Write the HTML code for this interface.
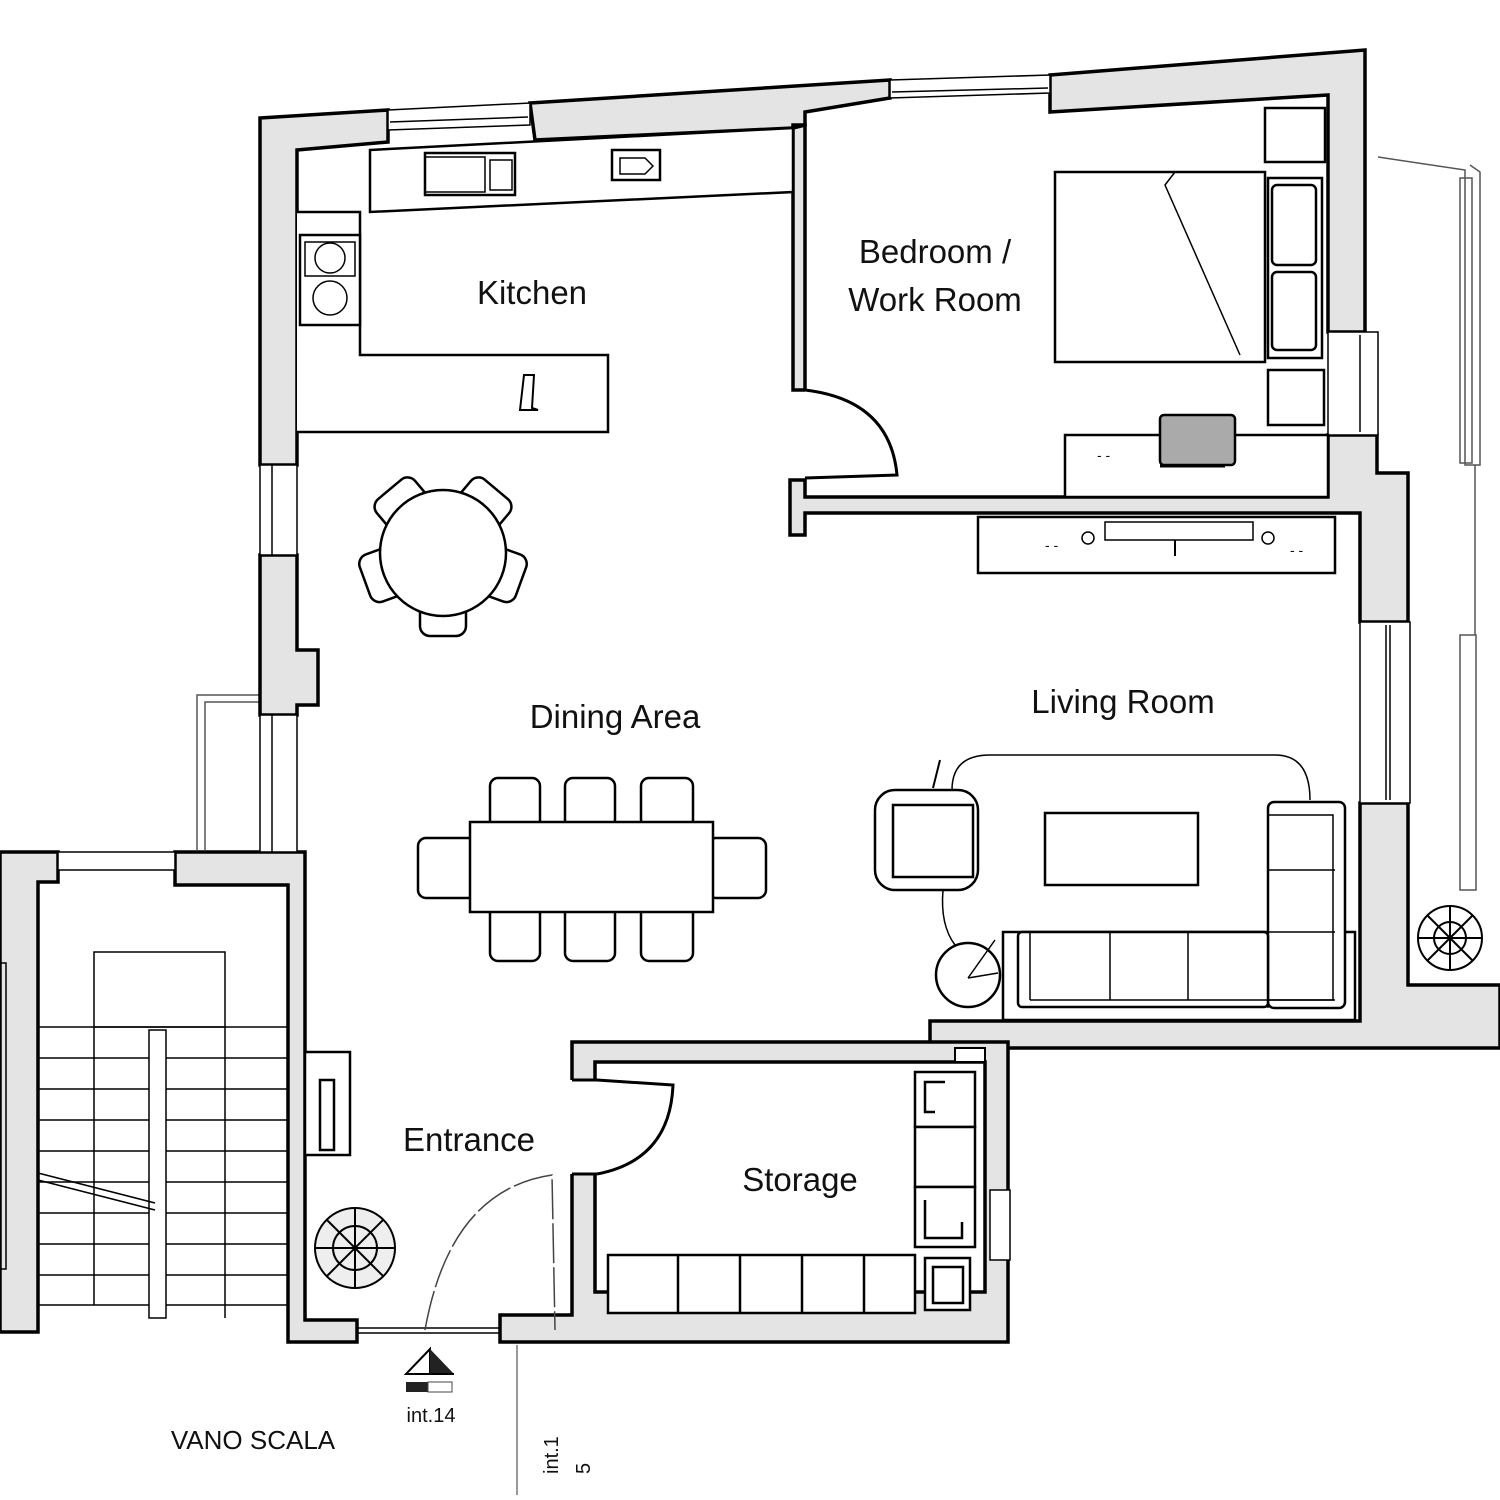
<!DOCTYPE html>
<html><head><meta charset="utf-8"><style>
html,body{margin:0;padding:0;background:#fff;}
svg{display:block;}
text{font-family:"Liberation Sans",sans-serif;fill:#111;}
.w{fill:#e4e4e4;stroke:#000;stroke-width:3.5;stroke-linejoin:miter;}
.f{fill:#fff;stroke:#000;stroke-width:2.5;}
.t{fill:none;stroke:#000;stroke-width:1.5;}
.g{fill:none;stroke:#555;stroke-width:1.5;}
.lbl{font-size:33px;font-weight:500;}
</style></head><body>
<svg width="1500" height="1500" viewBox="0 0 1500 1500" xmlns="http://www.w3.org/2000/svg">
<g class="g">
<polyline points="260,695 197,695 197,850"/><polyline points="260,702 205,702 205,850"/>
<polyline points="1378,157 1465,170 1465,465 1480,465 1480,172 1470,165"/>
<rect x="1460" y="178" width="12" height="285"/>
<line x1="1475" y1="465" x2="1475" y2="635"/>
<rect x="1460" y="635" width="16" height="255"/>
</g>
<polygon class="w" points="260,118 388,110 388,142 297,150 297,465 260,465"/>
<polygon class="w" points="530,103 890,80 890,98 805,112 805,125 793,125 793,128 535,140"/>
<polygon class="w" points="1050,75 1365,50 1365,332 1328,332 1328,95 1050,112"/>
<polygon class="w" points="790,480 805,480 805,497 1328,497 1328,435 1377,435 1377,473 1408,473 1408,622 1360,622 1360,513 805,513 805,535 790,535"/>
<polygon class="w" points="793,128 805,125 805,390 793,390"/>
<polygon class="w" points="1360,803 1408,803 1408,985 1500,985 1500,1048 930,1048 930,1021 1360,1021"/>
<polygon class="w" points="260,555 297,555 297,650 318,650 318,705 297,705 297,715 260,715"/>
<polygon class="w" points="175,852 305,852 305,1320 357,1320 357,1342 288,1342 288,885 175,885"/>
<polygon class="w" points="0,852 58,852 58,882 38,882 38,1332 0,1332"/>
<path class="w" fill-rule="evenodd" d="M500,1315 L572,1315 L572,1042 L1008,1042 L1008,1342 L500,1342 Z M595,1062 L595,1292 L985,1292 L985,1062 Z"/>
<rect x="569" y="1080" width="29" height="94" fill="#fff"/>
<line x1="572" y1="1080" x2="597" y2="1080" stroke="#000" stroke-width="3"/>
<line x1="572" y1="1174" x2="597" y2="1174" stroke="#000" stroke-width="3"/>
<rect x="955" y="1048" width="30" height="14" fill="#fff" stroke="#000" stroke-width="2"/>
<g class="t" fill="#fff">
<polygon points="388,110 530,103 530,125 388,130" fill="#fff"/>
<line x1="390" y1="122" x2="528" y2="117"/>
<polygon points="890,80 1050,75 1050,93 890,98" fill="#fff"/>
<line x1="892" y1="92" x2="1048" y2="88"/>
<rect x="1328" y="332" width="50" height="103" fill="#fff"/><line x1="1360" y1="335" x2="1360" y2="432"/>
<rect x="1360" y="622" width="50" height="181" fill="#fff"/><line x1="1386" y1="625" x2="1386" y2="800"/><line x1="1390" y1="625" x2="1390" y2="800"/>
<rect x="260" y="465" width="37" height="90" fill="#fff"/><line x1="272" y1="465" x2="272" y2="555"/>
<rect x="260" y="715" width="37" height="137" fill="#fff"/><line x1="272" y1="715" x2="272" y2="852"/>
<rect x="58" y="852" width="117" height="18" fill="#fff"/>
<rect x="990" y="1190" width="20" height="70" fill="#fff"/>
<line x1="357" y1="1328" x2="500" y2="1328"/><line x1="357" y1="1333" x2="500" y2="1333"/>
</g>
<path d="M805,390 Q890,400 897,475 L805,478" fill="#fff" stroke="#000" stroke-width="3"/>
<path d="M597,1080 L673,1085 Q670,1160 597,1174" fill="#fff" stroke="#000" stroke-width="3"/>
<path d="M425,1330 Q450,1190 552,1175 L555,1330" fill="none" stroke="#444" stroke-width="1.5" stroke-dasharray="40 4"/>
<polygon class="f" points="370,150 793,128 793,192 370,212"/>
<rect class="f" x="425" y="153" width="90" height="42"/><rect class="t" x="425" y="157" width="60" height="35"/><rect class="t" x="490" y="160" width="22" height="30"/>
<rect class="f" x="612" y="150" width="48" height="30"/><path class="t" d="M620,158 h25 l8,8 l-8,8 h-25z"/>
<polyline class="f" points="297,212 360,212 360,355 608,355 608,432 297,432" />
<rect class="f" x="300" y="235" width="60" height="90"/>
<circle class="t" cx="330" cy="258" r="15"/><circle class="t" cx="330" cy="298" r="17"/><rect class="t" x="305" y="242" width="50" height="34"/>
<path d="M524,375 L534,375 L532,408 L538,410 L520,410 Z" fill="#fff" stroke="#000" stroke-width="2"/>
<rect class="f" x="1265" y="108" width="60" height="54"/>
<rect class="f" x="1055" y="172" width="210" height="190"/>
<polyline class="t" points="1175,172 1165,185 1240,355" stroke-width="2.5"/>
<rect class="f" x="1268" y="178" width="54" height="180"/>
<rect class="f" x="1272" y="185" width="44" height="80" rx="5"/><rect class="f" x="1272" y="272" width="44" height="78" rx="5"/>
<rect class="f" x="1268" y="370" width="56" height="55"/>
<rect class="f" x="1065" y="435" width="263" height="62"/>
<text x="1097" y="460" font-size="14">- -</text>
<rect x="1160" y="415" width="75" height="50" rx="4" fill="#aaa" stroke="#000" stroke-width="2.5"/>
<line x1="1160" y1="466" x2="1225" y2="466" stroke="#000" stroke-width="3"/>
<rect class="f" x="978" y="517" width="357" height="56"/>
<rect class="t" x="1105" y="522" width="148" height="18"/>
<line x1="1175" y1="540" x2="1175" y2="556" stroke="#000" stroke-width="2"/>
<circle class="t" cx="1088" cy="538" r="6"/><circle class="t" cx="1268" cy="538" r="6"/>
<text x="1045" y="550" font-size="14">- -</text><text x="1290" y="555" font-size="14">- -</text>
<g stroke="#000" stroke-width="2.5" fill="#fff">
<g transform="rotate(-40 443 553)"><rect x="418" y="470" width="50" height="38" rx="10"/></g>
<g transform="rotate(40 443 553)"><rect x="418" y="470" width="50" height="38" rx="10"/></g>
<g transform="rotate(-110 443 553)"><rect x="418" y="470" width="50" height="38" rx="10"/></g>
<g transform="rotate(110 443 553)"><rect x="418" y="470" width="50" height="38" rx="10"/></g>
<g transform="rotate(180 443 553)"><rect x="420" y="470" width="46" height="36" rx="10"/></g>
<circle cx="443" cy="553" r="63"/>
</g>
<g stroke="#000" stroke-width="2.5" fill="#fff">
<rect x="490" y="778" width="50" height="50" rx="8"/><rect x="565" y="778" width="50" height="50" rx="8"/><rect x="641" y="778" width="52" height="50" rx="8"/>
<rect x="490" y="905" width="50" height="56" rx="8"/><rect x="565" y="905" width="50" height="56" rx="8"/><rect x="641" y="905" width="52" height="56" rx="8"/>
<rect x="418" y="838" width="58" height="60" rx="8"/><rect x="708" y="838" width="58" height="60" rx="8"/>
<rect x="470" y="822" width="243" height="90"/>
</g>
<path class="t" d="M952,790 Q952,755 990,755 L1275,755 Q1310,755 1310,800" stroke-width="2"/>
<line x1="940" y1="760" x2="933" y2="788" stroke="#000" stroke-width="2"/>
<rect class="f" x="875" y="790" width="103" height="100" rx="20"/><rect class="f" x="893" y="805" width="80" height="72"/>
<path class="t" d="M943,890 Q940,925 955,945" stroke-width="2"/>
<rect class="f" x="1045" y="813" width="153" height="72"/>
<rect class="f" x="1003" y="932" width="352" height="88"/>
<rect class="f" x="1268" y="802" width="77" height="206" rx="6"/>
<rect class="f" x="1018" y="932" width="250" height="75" rx="4"/>
<g class="t" stroke-width="2.5"><line x1="1030" y1="932" x2="1030" y2="1000"/><line x1="1030" y1="1000" x2="1335" y2="1000"/><line x1="1110" y1="932" x2="1110" y2="1000"/><line x1="1188" y1="932" x2="1188" y2="1000"/><line x1="1268" y1="932" x2="1268" y2="1008"/>
<rect x="1268" y="815" width="65" height="185"/><line x1="1268" y1="870" x2="1335" y2="870"/><line x1="1268" y1="932" x2="1335" y2="932"/></g>
<circle class="f" cx="968" cy="975" r="32"/>
<path class="t" d="M968,978 L998,973 M968,978 L995,940" stroke-width="2"/>
<g stroke="#000" stroke-width="2" fill="none">
<circle cx="1450" cy="938" r="32"/><circle cx="1450" cy="938" r="16"/>
<path d="M1418,938 H1482 M1450,906 V970 M1428,916 L1472,960 M1472,916 L1428,960"/>
<circle cx="355" cy="1248" r="40" fill="#eee"/><circle cx="355" cy="1248" r="22"/>
<path d="M315,1248 H395 M355,1208 V1288 M327,1220 L383,1276 M383,1220 L327,1276"/>
</g>
<rect class="f" x="305" y="1052" width="45" height="103"/><rect class="f" x="320" y="1080" width="14" height="70"/>
<g stroke="#000" stroke-width="2.5" fill="#fff">
<rect x="915" y="1072" width="60" height="55"/><rect x="915" y="1127" width="60" height="60"/><rect x="915" y="1187" width="60" height="60"/><rect x="925" y="1258" width="45" height="52"/>
<rect x="608" y="1255" width="307" height="58"/>
<line x1="678" y1="1255" x2="678" y2="1313"/><line x1="740" y1="1255" x2="740" y2="1313"/><line x1="802" y1="1255" x2="802" y2="1313"/><line x1="864" y1="1255" x2="864" y2="1313"/>
<rect x="933" y="1267" width="30" height="36"/>
<polyline fill="none" points="945,1082 925,1082 925,1112 935,1112"/><polyline fill="none" points="925,1200 925,1238 962,1238 962,1222"/>
</g>
<g class="t" stroke="#333">
<rect x="94" y="952" width="131" height="75"/>
<line x1="38" y1="1027" x2="288" y2="1027"/>
<line x1="38" y1="1058" x2="288" y2="1058"/><line x1="38" y1="1089" x2="288" y2="1089"/><line x1="38" y1="1120" x2="288" y2="1120"/><line x1="38" y1="1151" x2="288" y2="1151"/><line x1="38" y1="1182" x2="288" y2="1182"/><line x1="38" y1="1213" x2="288" y2="1213"/><line x1="38" y1="1244" x2="288" y2="1244"/><line x1="38" y1="1275" x2="288" y2="1275"/><line x1="38" y1="1305" x2="288" y2="1305"/>
<line x1="94" y1="1027" x2="94" y2="1305"/><line x1="225" y1="1027" x2="225" y2="1318"/>
<rect x="149" y="1030" width="17" height="288" fill="#fff"/>
<line x1="38" y1="1173" x2="155" y2="1203"/><line x1="38" y1="1180" x2="155" y2="1210"/>
<rect x="0" y="963" width="6" height="306"/>
</g>
<polygon points="430,1349 406,1374 430,1374" fill="#fff" stroke="#000" stroke-width="2"/>
<polygon points="430,1349 454,1374 430,1374" fill="#222"/>
<line x1="406" y1="1374" x2="454" y2="1374" stroke="#000" stroke-width="2"/>
<rect x="406" y="1382" width="22" height="10" fill="#222"/><rect x="428" y="1382" width="24" height="10" fill="#fff" stroke="#444"/>
<line x1="517" y1="1345" x2="517" y2="1495" stroke="#777" stroke-width="1.5"/>
<text class="lbl" x="532" y="304" text-anchor="middle">Kitchen</text>
<text class="lbl" x="935" y="263" text-anchor="middle">Bedroom /</text>
<text class="lbl" x="935" y="311" text-anchor="middle">Work Room</text>
<text class="lbl" x="615" y="728" text-anchor="middle">Dining Area</text>
<text class="lbl" x="1123" y="713" text-anchor="middle">Living Room</text>
<text class="lbl" x="469" y="1151" text-anchor="middle">Entrance</text>
<text class="lbl" x="800" y="1191" text-anchor="middle">Storage</text>
<text x="253" y="1449" font-size="26" text-anchor="middle" fill="#222">VANO SCALA</text>
<text x="431" y="1422" font-size="20" text-anchor="middle" fill="#222">int.14</text>
<text x="0" y="0" font-size="20" fill="#222" transform="translate(558,1474) rotate(-90)">int.1</text>
<text x="0" y="0" font-size="20" fill="#222" transform="translate(590,1474) rotate(-90)">5</text>
</svg>
</body></html>
